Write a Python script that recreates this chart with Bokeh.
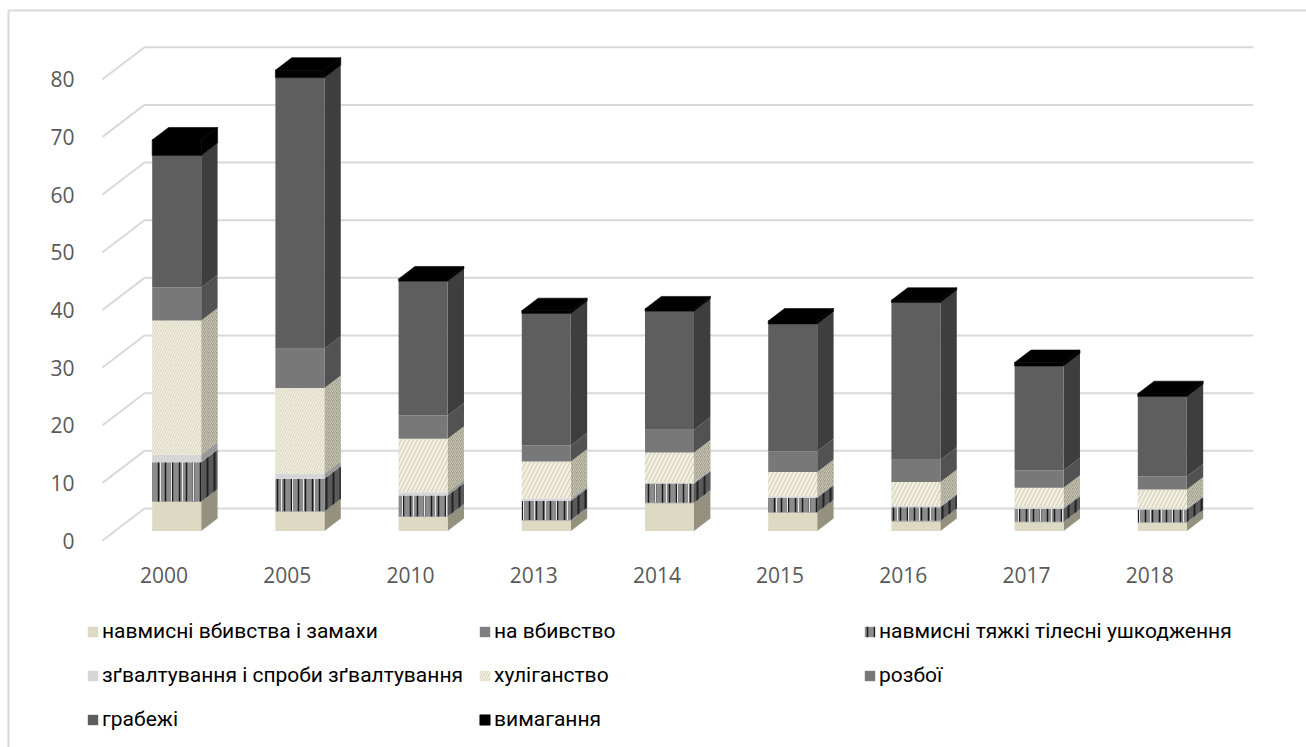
import numpy as np
from bokeh.plotting import figure
from bokeh.models import Range1d, FixedTicker, Legend, LegendItem, ColumnDataSource
from bokeh.embed import file_html
from bokeh.resources import INLINE

years = ["2000", "2005", "2010", "2013", "2014", "2015", "2016", "2017", "2018"]
y_ticks = [0, 10, 20, 30, 40, 50, 60, 70, 80]

names = ["навмисні вбивства і замахи", "на вбивство", "навмисні тяжкі тілесні ушкодження",
         "зґвалтування і спроби зґвалтування", "хуліганство", "розбої", "грабежі", "вимагання"]

murder   = [5.0, 3.3, 2.4, 1.8, 4.8, 3.15, 1.65, 1.5, 1.4]
attempt  = [0.1, 0.1, 0.1, 0.1, 0.1, 0.1, 0.1, 0.1, 0.1]
injury   = [6.8, 5.65, 3.65, 3.3, 3.3, 2.5, 2.35, 2.25, 2.2]
rape     = [1.3, 0.85, 0.55, 0.4, 0.2, 0.25, 0.2, 0.25, 0.2]
hooligan = [23.3, 14.9, 9.3, 6.45, 5.2, 4.2, 4.2, 3.4, 3.3]
assault  = [5.7, 6.8, 4.0, 2.75, 3.95, 3.6, 3.85, 3.0, 2.25]
robbery  = [22.9, 47.0, 23.3, 22.9, 20.55, 22.1, 27.25, 18.1, 13.85]
extort   = [2.7, 1.3, 0.4, 0.5, 0.4, 0.5, 0.4, 0.6, 0.5]
series = [murder, attempt, injury, rape, hooligan, assault, robbery, extort]

front = ["#DDD9C3", "#7F7F7F", "#8C8C8C", "#D6D6D8", "#DDD9C3", "#787878", "#5E5E5E", "#000000"]
side  = ["#94927F", "#555555", "#5A5A5A", "#999999", "#A3A18E", "#525252", "#3E3E3E", "#000000"]

# page geometry (pixels in the picture)
W, H = 1306, 747
PX_X = 123.2          # px per category
PX_Y = 5.766          # px per value unit
X0_PX = 163.6         # x of category 0
Y0_PX = 540           # y of value 0
AXIS_X_PX, AXIS_Y_PX = 90, 552
# oblique projection of the 3-D box
DEPTH_X, DEPTH_Y = 42 / PX_X, 32 / PX_Y
BAR_W = 49 / PX_X
D_FRONT, D_BACK = 0.30, 0.69

def dx(px):
    return (px - X0_PX) / PX_X

def dy(py):
    return (Y0_PX - py) / PX_Y

p = figure(width=W, height=H, output_backend="svg", toolbar_location=None,
           min_border=0, frame_width=W, frame_height=H,
           x_range=Range1d(dx(0), dx(W)), y_range=Range1d(dy(H), dy(0)),
           background_fill_color="white", border_fill_color="white")
p.outline_line_color = None
p.grid.visible = False

for ax in (p.xaxis[0], p.yaxis[0]):
    ax.axis_line_color = None
    ax.major_tick_line_color = None
    ax.minor_tick_line_color = None
    ax.major_label_text_font = "Open Sans"
    ax.major_label_text_font_size = "21px"
    ax.major_label_text_color = "#595959"
p.xaxis.ticker = FixedTicker(ticks=list(range(len(years))))
p.xaxis.major_label_overrides = {i: y for i, y in enumerate(years)}
p.xaxis.major_label_standoff = 8
p.xaxis.fixed_location = dy(AXIS_Y_PX)
p.yaxis.ticker = FixedTicker(ticks=y_ticks)
p.yaxis.major_label_standoff = 10
p.yaxis.fixed_location = dx(AXIS_X_PX)

# chart border (top and left are all that show in the picture)
p.line([dx(8), dx(8), dx(W)], [dy(H), dy(10), dy(10)], line_color="#D9D9D9", line_width=2)

# grid: floor/wall
n = len(years)
gx, gy = [], []
for t in y_ticks:
    gx.append([-0.5, -0.5 + DEPTH_X, n - 0.5 + DEPTH_X])
    gy.append([t, t + DEPTH_Y, t + DEPTH_Y])
p.multi_line(gx, gy, line_color="#D9D9D9", line_width=2)

stack = np.zeros(n)
xs_idx = np.arange(n)
fx0 = xs_idx + D_FRONT * DEPTH_X - BAR_W / 2
fx1 = fx0 + BAR_W
fdy = D_FRONT * DEPTH_Y
ddx = (D_BACK - D_FRONT) * DEPTH_X
ddy = (D_BACK - D_FRONT) * DEPTH_Y

renderers = []
for k, vals in enumerate(series):
    vals = np.array(vals)
    b = stack + fdy
    t = b + vals
    stack = stack + vals

    hatch = {}
    side_hatch = {}
    data = dict(l=fx0, r=fx1, b=b, t=t, hs=np.where(vals > 10, 5.0, 8.0), hw=np.where(vals > 10, 1.0, 1.6))
    if k == 2:
        hatch = dict(hatch_pattern="vertical_line", hatch_color="#1A1A1A", hatch_scale=7, hatch_weight=1.5)
        side_hatch = dict(hatch_pattern="vertical_line", hatch_color="#222222", hatch_scale=7, hatch_weight=2)
    if k == 4:
        hatch = dict(hatch_pattern="right_diagonal_line", hatch_color="#F7F5EC", hatch_scale="hs", hatch_weight="hw")
        side_hatch = dict(hatch_pattern="right_diagonal_line", hatch_color="#C8C6B4", hatch_scale=4, hatch_weight=1)

    sx = [[a, a + ddx, a + ddx, a] for a in fx1]
    sy = [[bb, bb + ddy, tt + ddy, tt] for bb, tt in zip(b, t)]
    edge = dict(line_color="#000000", line_width=0.6) if k == 7 else dict(line_color=None)
    p.patches(sx, sy, fill_color=side[k], **edge, **side_hatch)
    r = p.quad(left="l", right="r", bottom="b", top="t", source=ColumnDataSource(data),
               fill_color=front[k], **edge, **hatch)
    renderers.append(r)
    if k == 2:
        p.quad(left=fx0, right=fx1, bottom=b, top=t, fill_color=None, line_color=None,
               hatch_pattern="vertical_line", hatch_color="#E8E8E8", hatch_scale=11, hatch_weight=1)
    if k == len(series) - 1:
        tx = [[a, c, c + ddx, a + ddx] for a, c in zip(fx0, fx1)]
        ty = [[tt, tt, tt + ddy, tt + ddy] for tt in t]
        p.patches(tx, ty, fill_color=front[k], **edge)

def add_legend(idx, loc):
    lg = Legend(items=[LegendItem(label=names[i], renderers=[renderers[i]]) for i in idx],
                location=loc, orientation="vertical", background_fill_alpha=0, border_line_color=None,
                label_text_font="Roboto", label_text_font_size="21px", label_text_color="#000000",
                glyph_width=13, glyph_height=13, label_height=14, label_standoff=3,
                spacing=20, padding=0, margin=0)
    p.add_layout(lg)

# columns and rows of the legend
COLS = [86, 478, 863]
add_legend([0, 3, 6], (COLS[0], H - 731))
add_legend([1, 4, 7], (COLS[1], H - 731))
add_legend([2, 5], (COLS[2], H - 687))

open("out.html", "w").write(file_html(p, INLINE))
